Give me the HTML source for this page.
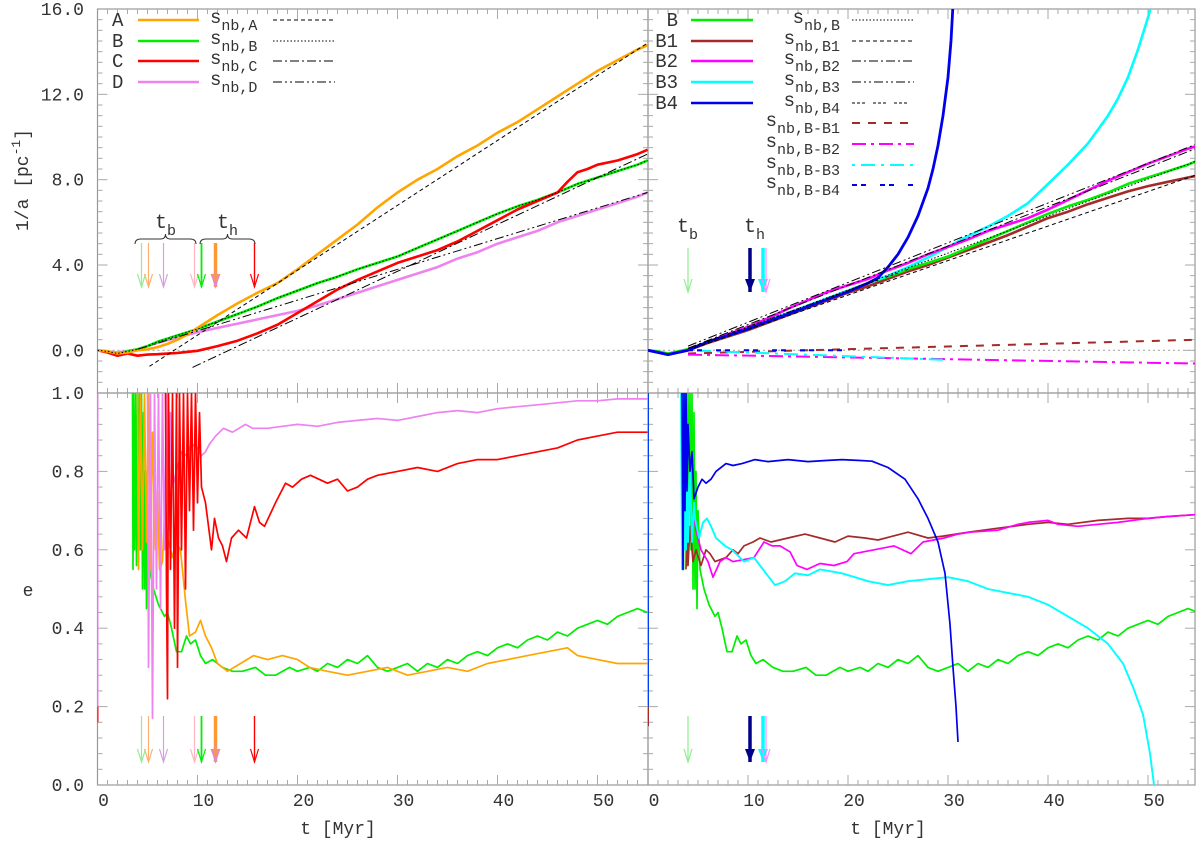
<!DOCTYPE html>
<html><head><meta charset="utf-8"><style>
html,body{margin:0;padding:0;background:#fff;}
svg{display:block;font-family:"Liberation Mono",monospace;}
</style></head><body>
<svg id="chart" width="1200" height="843" viewBox="0 0 1200 843" xmlns="http://www.w3.org/2000/svg">
<defs>
<clipPath id="cTL"><rect x="97.5" y="9" width="550.5" height="384"/></clipPath>
<clipPath id="cTR"><rect x="648" y="9" width="547" height="384"/></clipPath>
<clipPath id="cBL"><rect x="97.5" y="393" width="550.5" height="392"/></clipPath>
<clipPath id="cBR"><rect x="648" y="393" width="547" height="392"/></clipPath>
</defs>
<g id="axes"></g>
<g id="marks"></g>
<g id="legend"></g>
</svg>
<script>
// ---------- data ----------
const xTicks = [0,10,20,30,40,50];
const xTickLabels = ["0","10","20","30","40","50"];
const yTopTicks = [0,4,8,12,16];
const yTopLabels = ["0.0","4.0","8.0","12.0","16.0"];
const yBotTicks = [0,0.2,0.4,0.6,0.8,1.0];
const yBotLabels = ["0.0","0.2","0.4","0.6","0.8","1.0"];

// 1/a  [t, value]
const invA_A = [[0,0],[1,-0.05],[2,-0.15],[3,-0.1],[4,0],[5,0.05],[6,0.15],[7,0.3],[8,0.5],[9,0.75],[10,1.05],[12,1.65],[14,2.2],[16,2.7],[18,3.15],[20,3.8],[22,4.5],[24,5.2],[26,5.9],[28,6.7],[30,7.4],[32,8.0],[34,8.5],[36,9.1],[38,9.6],[40,10.2],[42,10.7],[44,11.3],[46,11.9],[48,12.5],[50,13.1],[52,13.6],[54,14.1],[55,14.3]];
const invA_B = [[0,0],[1,-0.05],[2,-0.15],[3,-0.05],[4,0.05],[5,0.2],[6,0.4],[7,0.55],[8,0.7],[9,0.85],[10,1.0],[12,1.35],[14,1.7],[16,2.05],[18,2.45],[20,2.8],[22,3.15],[24,3.45],[26,3.8],[28,4.1],[30,4.4],[32,4.8],[34,5.2],[36,5.6],[38,6.0],[40,6.4],[42,6.75],[44,7.05],[46,7.4],[48,7.8],[50,8.1],[52,8.4],[54,8.7],[55,8.9]];
const invA_C = [[0,0],[1,-0.1],[2,-0.25],[3,-0.15],[4,-0.25],[5,-0.2],[6,-0.18],[8,-0.12],[10,-0.02],[12,0.2],[14,0.45],[16,0.8],[18,1.2],[20,1.75],[22,2.3],[24,2.85],[26,3.3],[28,3.7],[30,4.1],[32,4.4],[34,4.7],[36,5.1],[38,5.6],[40,6.1],[42,6.6],[44,7.0],[46,7.4],[47,7.9],[48,8.35],[49,8.5],[50,8.7],[52,8.9],[54,9.2],[55,9.4]];
const invA_D = [[0,0],[2,-0.1],[4,0.05],[6,0.35],[8,0.6],[10,0.85],[12,1.05],[14,1.25],[16,1.45],[18,1.65],[20,1.85],[22,2.1],[24,2.4],[26,2.7],[28,3.0],[30,3.3],[32,3.6],[34,3.9],[36,4.3],[38,4.6],[40,5.0],[42,5.3],[44,5.6],[46,6.0],[48,6.3],[50,6.6],[52,6.9],[54,7.2],[55,7.4]];
const invA_B1 = [[0,0],[2,-0.2],[4,0],[6,0.35],[8,0.65],[10,0.95],[12,1.3],[14,1.65],[16,2.0],[18,2.35],[20,2.7],[22,3.0],[24,3.35],[26,3.7],[28,4.0],[30,4.35],[32,4.7],[34,5.05],[36,5.4],[38,5.8],[40,6.2],[42,6.5],[44,6.85],[46,7.15],[48,7.45],[50,7.7],[52,7.9],[54,8.1],[55,8.2]];
const invA_B2 = [[0,0],[2,-0.2],[4,0],[6,0.4],[8,0.75],[10,1.1],[12,1.5],[14,1.95],[16,2.35],[18,2.75],[20,3.05],[22,3.35],[24,3.75],[26,4.1],[28,4.5],[30,4.85],[32,5.2],[34,5.6],[36,5.9],[38,6.2],[40,6.6],[42,7.05],[44,7.5],[46,7.95],[48,8.35],[50,8.75],[52,9.1],[54,9.45],[55,9.6]];
const invA_B3 = [[0,0],[2,-0.2],[4,0],[6,0.4],[8,0.7],[10,1.0],[12,1.4],[14,1.75],[16,2.1],[18,2.45],[20,2.8],[22,3.15],[24,3.5],[26,3.9],[28,4.35],[30,4.85],[32,5.35],[34,5.8],[36,6.3],[38,6.9],[40,7.8],[42,8.7],[44,9.7],[46,11.0],[47,11.8],[48,12.8],[49,14.1],[50,15.6],[50.3,16.1]];
const invA_B4 = [[0,0],[2,-0.2],[4,0],[6,0.4],[8,0.7],[10,1.0],[12,1.35],[14,1.7],[16,2.05],[18,2.4],[20,2.75],[22,3.15],[23,3.4],[24,3.9],[25,4.5],[26,5.3],[27,6.3],[28,7.6],[28.5,8.5],[29,9.6],[29.5,11.0],[30,12.8],[30.3,14.5],[30.5,16.2]];
// analytic s_nb fits: [t, value] endpoints
const snbA = [[5.2,-0.75],[55,14.4]];
const snbC = [[9.5,-0.8],[55,9.2]];
const snbD = [[4,0.05],[55,7.4]];
const snbB = [[4,0.05],[55,8.9]];
const snbB1 = [[4,0.0],[55,8.25]];
const snbB2 = [[4,0.1],[55,9.5]];
const snbB3 = [[4,0.2],[55,9.7]];
const snbB4 = [[4,0.1],[26,3.8]];
const snbBB1 = [[4,-0.15],[55,0.5]];
const snbBB2 = [[4,-0.2],[55,-0.62]];
const snbBB3 = [[4,0.0],[30,-0.45]];
const snbBB4 = [[4,0.0],[20,0.0]];

// eccentricity [t, e]
const e_B = [[3.5,1],[3.55,0.55],[3.6,1],[3.7,0.6],[3.8,1],[3.9,0.56],[4.0,1],[4.1,0.7],[4.2,1],[4.3,0.6],[4.4,1],[4.5,0.5],[4.6,0.95],[4.7,0.5],[4.8,0.8],[4.9,0.45],[5.0,0.7],[5.2,0.55],[5.6,0.5],[6.1,0.46],[6.7,0.43],[7.0,0.44],[7.4,0.40],[7.9,0.34],[8.4,0.34],[8.9,0.38],[9.3,0.36],[9.8,0.37],[10.3,0.33],[10.8,0.31],[11.5,0.32],[12.5,0.30],[13.5,0.29],[14.5,0.29],[15.8,0.30],[16.8,0.28],[17.8,0.28],[19.2,0.30],[20,0.29],[21.2,0.30],[22,0.29],[23,0.31],[24,0.30],[25,0.32],[26,0.31],[27,0.33],[28,0.30],[29,0.29],[30,0.30],[31,0.31],[32,0.29],[33,0.31],[34,0.30],[35,0.32],[36,0.31],[37,0.33],[38,0.34],[39,0.33],[40,0.35],[41,0.36],[42,0.35],[43,0.37],[44,0.38],[45,0.37],[46,0.39],[47,0.38],[48,0.40],[49,0.41],[50,0.42],[51,0.41],[52,0.43],[53,0.44],[54,0.45],[55,0.44]];
const e_A = [[4.0,1],[4.1,0.55],[4.3,1],[4.5,0.6],[4.7,1],[4.9,0.62],[5.1,1],[5.3,0.55],[5.5,0.9],[5.8,0.6],[6.0,0.75],[6.2,0.55],[6.5,0.57],[6.7,0.69],[7.0,0.63],[7.5,0.58],[7.8,0.62],[8.3,0.6],[8.8,0.47],[9.2,0.38],[9.8,0.39],[10.3,0.42],[10.8,0.38],[11.4,0.35],[12,0.31],[13,0.29],[14.3,0.31],[15.6,0.33],[17,0.32],[18.5,0.33],[20,0.32],[21.2,0.30],[23,0.29],[25,0.28],[27,0.29],[29,0.30],[31,0.28],[33,0.29],[35,0.30],[37,0.29],[39,0.31],[41,0.32],[43,0.33],[45,0.34],[47,0.35],[48,0.33],[50,0.32],[52,0.31],[55,0.31]];
const e_D = [[5.0,1],[5.1,0.3],[5.3,1],[5.5,0.17],[5.7,1],[5.9,0.5],[6.1,1],[6.3,0.45],[6.5,1],[6.7,0.6],[6.9,1],[7.1,0.65],[7.3,0.95],[7.5,0.76],[7.9,0.8],[8.4,0.85],[8.9,0.84],[9.4,0.87],[10,0.86],[10.4,0.84],[10.8,0.85],[11.2,0.87],[11.8,0.89],[12.6,0.91],[13.5,0.9],[14.8,0.92],[15.5,0.91],[17,0.91],[18.5,0.915],[20,0.92],[22,0.915],[24,0.925],[26,0.93],[28,0.935],[30,0.93],[32,0.94],[34,0.95],[36,0.955],[38,0.95],[40,0.96],[42,0.965],[44,0.97],[46,0.975],[48,0.98],[50,0.98],[52,0.985],[55,0.985]];
const e_C = [[6.8,1],[6.9,0.5],[7.0,0.22],[7.1,1],[7.3,0.55],[7.5,1],[7.7,0.4],[7.9,1],[8.0,0.3],[8.2,1],[8.4,0.6],[8.6,1],[8.8,0.5],[9.0,1],[9.2,0.7],[9.4,1],[9.6,0.65],[9.8,1],[10.0,0.72],[10.2,0.95],[10.4,0.76],[10.8,0.72],[11.4,0.60],[11.7,0.68],[12.1,0.63],[12.5,0.61],[12.9,0.57],[13.4,0.63],[14.1,0.65],[14.9,0.63],[15.7,0.71],[16.2,0.67],[16.7,0.66],[17.8,0.72],[18.8,0.77],[19.5,0.76],[20.4,0.78],[21.3,0.79],[23,0.77],[24,0.78],[25,0.75],[26,0.76],[27,0.78],[28,0.79],[30,0.80],[32,0.81],[34,0.80],[36,0.82],[38,0.83],[40,0.83],[42,0.84],[44,0.85],[46,0.86],[48,0.88],[50,0.89],[52,0.9],[54,0.9],[55,0.9]];
const e_B4 = [[3.4,1],[3.5,0.55],[3.6,1],[3.7,0.7],[3.8,1],[3.9,0.75],[4.0,0.92],[4.2,0.8],[4.4,0.85],[4.6,0.73],[5.0,0.76],[5.4,0.78],[5.8,0.77],[6.3,0.78],[6.8,0.80],[7.8,0.82],[8.5,0.815],[9.4,0.82],[10.7,0.83],[12,0.825],[14,0.83],[16,0.825],[18,0.828],[19.4,0.83],[21,0.828],[22.4,0.826],[24,0.81],[25.7,0.78],[27,0.73],[28,0.68],[29,0.62],[29.7,0.54],[30.2,0.41],[30.5,0.30],[30.8,0.2],[31.0,0.11]];
const e_B3 = [[3.3,1],[3.4,0.55],[3.5,1],[3.6,0.6],[3.7,0.95],[3.8,0.6],[3.9,0.85],[4.0,0.62],[4.2,0.8],[4.4,0.62],[4.6,0.72],[4.7,0.68],[5.1,0.63],[5.5,0.67],[5.9,0.68],[6.3,0.66],[6.8,0.63],[7.7,0.61],[8.4,0.6],[9.6,0.57],[10.6,0.58],[11.2,0.56],[11.8,0.54],[12.7,0.51],[13.7,0.52],[14.7,0.54],[16,0.535],[17.2,0.55],[19.4,0.54],[22,0.52],[24,0.51],[26,0.52],[28,0.525],[30,0.53],[32,0.52],[34,0.5],[36,0.49],[38,0.48],[40,0.46],[42,0.43],[44,0.40],[46,0.36],[47.5,0.31],[48.5,0.25],[49.5,0.18],[50.2,0.08],[50.6,0]];
const e_B1 = [[3.8,0.55],[3.9,0.7],[4.0,0.56],[4.2,0.66],[4.5,0.57],[4.8,0.6],[5.3,0.56],[5.8,0.60],[6.2,0.59],[6.7,0.57],[7.8,0.58],[8.5,0.60],[9.0,0.59],[9.6,0.61],[10.5,0.62],[11.2,0.63],[12.3,0.62],[14,0.63],[15.7,0.64],[17.2,0.63],[18.7,0.62],[20,0.635],[21.7,0.63],[23,0.625],[24.5,0.635],[26,0.645],[28,0.63],[29.5,0.635],[32,0.645],[35,0.655],[38,0.665],[40,0.67],[42,0.665],[45,0.675],[48,0.68],[50,0.68],[52,0.685],[55,0.69]];
const e_B2 = [[4.5,0.7],[4.8,0.65],[5.3,0.6],[6.0,0.57],[6.5,0.53],[7.2,0.57],[7.8,0.58],[8.5,0.57],[9.6,0.575],[10.6,0.58],[11.6,0.62],[12.4,0.61],[13.2,0.61],[14.2,0.595],[14.9,0.56],[15.9,0.55],[17.2,0.565],[18.6,0.56],[19.9,0.57],[20.6,0.59],[22.6,0.6],[24.6,0.61],[26.3,0.59],[27.5,0.62],[29.6,0.63],[31,0.64],[32.2,0.645],[35,0.65],[37,0.665],[38,0.67],[40,0.675],[41,0.665],[43,0.66],[45,0.665],[47,0.67],[50,0.68],[52,0.685],[55,0.69]];
// timing arrows
const arrowTimesL = [4.4,5.1,6.6,9.7,10.4,11.8,15.7];
const arrowTimesR = [4.0,10.2,11.5];

// ---------- helpers ----------
const NS = "http://www.w3.org/2000/svg";
const P = {
  TL:{x0:97.5,x1:648,y0:393,y1:9,vmin:-2,vmax:16,clip:"cTL"},
  TR:{x0:648,x1:1195,y0:393,y1:9,vmin:-2,vmax:16,clip:"cTR"},
  BL:{x0:97.5,x1:648,y0:785,y1:393,vmin:0,vmax:1,clip:"cBL"},
  BR:{x0:648,x1:1195,y0:785,y1:393,vmin:0,vmax:1,clip:"cBR"}
};
function sx(p,t){return p.x0+t*10;}
function sy(p,v){return p.y0+(v-p.vmin)/(p.vmax-p.vmin)*(p.y1-p.y0);}
function mk(tag,attrs,parent){const e=document.createElementNS(NS,tag);for(const k in attrs)e.setAttribute(k,attrs[k]);parent.appendChild(e);return e;}
const axes=document.getElementById('axes'),marks=document.getElementById('marks'),legend=document.getElementById('legend');
function series(pk,data,color,w,dash,name){
  const p=P[pk];
  const d=data.map((q,i)=>(i?'L':'M')+sx(p,q[0]).toFixed(1)+','+sy(p,q[1]).toFixed(1)).join('');
  const el=mk('path',{d:d,fill:'none',stroke:color,'stroke-width':w,'stroke-linejoin':'round','clip-path':'url(#'+p.clip+')'},marks);
  if(dash)el.setAttribute('stroke-dasharray',dash);
  
  
  return el;
}
function txt(x,y,s,size,anchor,parent,name){
  const t=mk('text',{x:x,y:y,'font-size':size,'text-anchor':anchor||'start',fill:'#333'},parent);
  t.textContent=s;
  
  
  return t;
}

// ---------- frames & ticks ----------
for(const k in P){
  const p=P[k];
  const r=mk('rect',{x:p.x0,y:p.y1,width:p.x1-p.x0,height:p.y0-p.y1,fill:'none',stroke:'#999','stroke-width':1.2},axes);
  
  
  // x ticks
  for(let t=1;t<55;t++){
    const x=sx(p,t); if(x>=p.x1-1)break;
    const L=(t%10===0)?10:5;
    mk('line',{x1:x,x2:x,y1:p.y0,y2:p.y0-L,stroke:'#aaa','stroke-width':1},axes);
    mk('line',{x1:x,x2:x,y1:p.y1,y2:p.y1+L,stroke:'#aaa','stroke-width':1},axes);
  }
  // y ticks
  const top=k[0]==='T';
  const minor=top?0.5:0.04, major=top?4:0.2;
  for(let v=p.vmin+minor;v<p.vmax-1e-6;v+=minor){
    const y=sy(p,v);
    const isMaj=Math.abs(v/major-Math.round(v/major))<1e-6;
    const L=isMaj?10:5;
    mk('line',{x1:p.x0,x2:p.x0+L,y1:y,y2:y,stroke:'#aaa','stroke-width':1},axes);
    mk('line',{x1:p.x1,x2:p.x1-L,y1:y,y2:y,stroke:'#aaa','stroke-width':1},axes);
  }
}
// y tick labels
yTopTicks.forEach((v,i)=>{txt(84,sy(P.TL,v)+6,yTopLabels[i],18,'end',axes,'y-tick-label-top');});
yBotTicks.forEach((v,i)=>{ if(v===1.0) txt(84,sy(P.BL,v)+6,yBotLabels[i],18,'end',axes,'y-tick-label-bottom'); else txt(84,sy(P.BL,v)+6,yBotLabels[i],18,'end',axes,'y-tick-label-bottom');});
// x tick labels
['BL','BR'].forEach(k=>{xTicks.forEach((t,i)=>{txt(sx(P[k],t)+6,806,xTickLabels[i],18,'middle',axes,'x-tick-label');});});
txt(338,834,'t [Myr]',18,'middle',axes,'x-axis-title-left');
txt(888,834,'t [Myr]',18,'middle',axes,'x-axis-title-right');
const yt=mk('text',{x:0,y:0,'font-size':18,'text-anchor':'middle',fill:'#333',transform:'translate(28,180) rotate(-90)'},axes);


yt.innerHTML='1/a [pc<tspan dy="-8" font-size="13">-1</tspan><tspan dy="8">]</tspan>';
txt(28,596,'e',18,'middle',axes,'y-axis-title-bottom');

// zero reference lines
[['TL'],['TR']].forEach(([k])=>{const p=P[k];const l=mk('line',{x1:p.x0,x2:p.x1,y1:sy(p,0),y2:sy(p,0),stroke:'#aaa','stroke-width':1.2,'stroke-dasharray':'2,3'},marks);

});

// ---------- top-left ----------
series('TL',invA_D,'#ee82ee',2.6,null,'curve-1a-D');
series('TL',invA_B,'#00ee00',2.6,null,'curve-1a-B');
series('TL',invA_C,'#ff0000',2.6,null,'curve-1a-C');
series('TL',invA_A,'#ffa500',2.6,null,'curve-1a-A');
series('TL',snbA,'#000',1,'4,3','snb-A');
series('TL',invA_B,'#000',1,'1.5,2','snb-B');
series('TL',snbC,'#000',1,'9,3,2,3','snb-C');
series('TL',snbD,'#000',1,'9,3,2,3,2,3','snb-D');

// ---------- top-right ----------
series('TR',invA_B1,'#a52a2a',2.6,null,'curve-1a-B1');
series('TR',invA_B,'#00ee00',2.6,null,'curve-1a-B-right');
series('TR',invA_B3,'#00ffff',2.6,null,'curve-1a-B3');
series('TR',invA_B2,'#ff00ff',2.6,null,'curve-1a-B2');
series('TR',invA_B4,'#0000ee',2.8,null,'curve-1a-B4');
series('TR',snbB,'#000',1,'1.5,2','snb-B-right');
series('TR',snbB1,'#000',1,'4,3','snb-B1');
series('TR',snbB2,'#000',1,'9,3,2,3','snb-B2');
series('TR',snbB3,'#000',1,'9,3,2,3,2,3','snb-B3');
series('TR',snbB4,'#000',1,'3,2,3,2,3,8','snb-B4');
series('TR',snbBB1,'#a52a2a',2,'8,8','snb-B-B1');
series('TR',snbBB2,'#ff00ff',2,'14,5,3,5','snb-B-B2');
series('TR',snbBB3,'#00ffff',2,'3,6,14,6','snb-B-B3');
series('TR',snbBB4,'#0000ee',2,'5,4,5,14','snb-B-B4');

// ---------- bottom-left ----------
series('BL',[[0,0.2],[0,1]],'#ee82ee',2,null,'e-D-initial');
series('BL',[[0,0.16],[0,0.2]],'#ff0000',2,null,'e-C-initial');
series('BL',e_B,'#00ee00',1.7,null,'curve-e-B');
series('BL',e_A,'#ffa500',1.7,null,'curve-e-A');
series('BL',e_D,'#ee82ee',1.7,null,'curve-e-D');
series('BL',e_C,'#ff0000',1.7,null,'curve-e-C');

// ---------- bottom-right ----------
series('BR',[[0,0.15],[0,1]],'#00ffff',2,null,'e-B3-initial');
series('BR',[[0,0.2],[0,1]],'#0000ee',1.5,null,'e-B4-initial');
series('BR',[[0,0.15],[0,0.2]],'#a52a2a',2,null,'e-B1-initial');
series('BR',e_B,'#00ee00',1.7,null,'curve-e-B-right');
series('BR',e_B1,'#a52a2a',1.7,null,'curve-e-B1');
series('BR',e_B2,'#ff00ff',1.7,null,'curve-e-B2');
series('BR',e_B3,'#00ffff',1.9,null,'curve-e-B3');
series('BR',e_B4,'#0000ee',1.7,null,'curve-e-B4');

// ---------- arrows ----------
function arrow(p,t,ya,yb,color,w,name){
  const x=sx(p,t);
  const g=mk('g',{},marks);
  
  
  mk('line',{x1:x,x2:x,y1:ya,y2:yb,stroke:color,'stroke-width':w},g);
  if(w>2) mk('polygon',{points:(x-5)+','+(yb-13)+' '+(x+5)+','+(yb-13)+' '+x+','+yb,fill:color},g);
  else mk('polyline',{points:(x-4)+','+(yb-13)+' '+x+','+yb+' '+(x+4)+','+(yb-13),fill:'none',stroke:color,'stroke-width':1.2},g);
}
const arrColL=['#90ee90','#ffb070','#d8a0e0','#ffb6c1','#00ee00','#ff9933','#ff0000'];
const arrWL=[1.2,1.2,1.2,1.2,1.8,3.5,1.4];
[[243,287],[716,762]].forEach(([a,b],j)=>{
  const p=j?P.BL:P.TL;
  arrowTimesL.forEach((t,i)=>arrow(p,t,a,b,arrColL[i],arrWL[i],'timing-arrow-left'));
  arrow(p,arrowTimesL[5],b-18,b,'#dd88dd',1.5,'timing-arrow-left-inner');
});
const arrColR=['#90ee90','#00008b','#00ffff'];
const arrWR=[1.2,3.5,3.5];
[[248,292],[716,762]].forEach(([a,b],j)=>{
  const p=j?P.BR:P.TR;
  arrowTimesR.forEach((t,i)=>arrow(p,t,a,b,arrColR[i],arrWR[i],'timing-arrow-right'));
  arrow(P[j?'BR':'TR'],arrowTimesR[2]+0.3,a,b,'#ff88ff',1.2,'timing-arrow-right-b2');
});
// braces
function brace(x1,x2,y,name){
  const m=(x1+x2)/2;
  const b=mk('path',{d:`M${x1},${y+5} Q${x1},${y} ${x1+6},${y} L${m-5},${y} Q${m},${y} ${m},${y-5} Q${m},${y} ${m+5},${y} L${x2-6},${y} Q${x2},${y} ${x2},${y+5}`,fill:'none',stroke:'#333','stroke-width':1},marks);
  
  
}
brace(135,196,239,'brace-tb');
brace(200,255,239,'brace-th');
function tlabel(x,y,sub,name){
  const t=mk('text',{x:x,y:y,'font-size':20,fill:'#333'},marks);
  
  
  t.innerHTML='t<tspan dy="7" font-size="15">'+sub+'</tspan>';
}
tlabel(155,228,'b','label-tb-left');
tlabel(217,228,'h','label-th-left');
tlabel(677,232,'b','label-tb-right');
tlabel(744,232,'h','label-th-right');

// ---------- legends ----------
function legLine(x1,x2,y,color,w,dash,name){
  const l=mk('line',{x1:x1,x2:x2,y1:y,y2:y,stroke:color,'stroke-width':w},legend);
  if(dash)l.setAttribute('stroke-dasharray',dash);
  
  
}
function snbText(x,y,sub,anchor,name){
  const t=mk('text',{x:x,y:y,'font-size':19,fill:'#333','text-anchor':anchor},legend);
  
  
  t.innerHTML='s<tspan dy="7" font-size="15">nb,'+sub+'</tspan>';
}
const legL=[['A','#ffa500','4,3'],['B','#00ee00','1.5,2'],['C','#ff0000','9,3,2,3'],['D','#ee82ee','9,3,2,3,2,3']];
const rowL=[20,41,61,82];
legL.forEach((r,i)=>{
  txt(112,rowL[i]+6,r[0],19,'start',legend,'legend-label-'+r[0]);
  legLine(138,199,rowL[i],r[1],2.6,null,'legend-line-'+r[0]);
  snbText(210,rowL[i]+3,r[0],'start','legend-snb-'+r[0]);
  legLine(273,335,rowL[i],'#000',1,r[2],'legend-snb-line-'+r[0]);
});
const legR=[['B','#00ee00','1.5,2'],['B1','#a52a2a','4,3'],['B2','#ff00ff','9,3,2,3'],['B3','#00ffff','9,3,2,3,2,3'],['B4','#0000ee','3,2,3,2,3,8']];
const rowR=[20,41,61,82,103,123,144,165,185];
legR.forEach((r,i)=>{
  txt(678,rowR[i]+6,r[0],19,'end',legend,'legend-label-'+r[0]);
  legLine(691,753,rowR[i],r[1],2.6,null,'legend-line-'+r[0]);
  snbText(840,rowR[i]+3,r[0],'end','legend-snb-'+r[0]);
  legLine(852,914,rowR[i],'#000',1,r[2],'legend-snb-line-'+r[0]);
});
const legR2=[['B-B1','#a52a2a','8,8'],['B-B2','#ff00ff','14,5,3,5'],['B-B3','#00ffff','3,6,14,6'],['B-B4','#0000ee','5,4,5,14']];
legR2.forEach((r,i)=>{
  snbText(840,rowR[i+5]+3,r[0],'end','legend-snb-'+r[0]);
  legLine(852,914,rowR[i+5],r[1],2,r[2],'legend-snb-line-'+r[0]);
});
</script>
</body></html>
